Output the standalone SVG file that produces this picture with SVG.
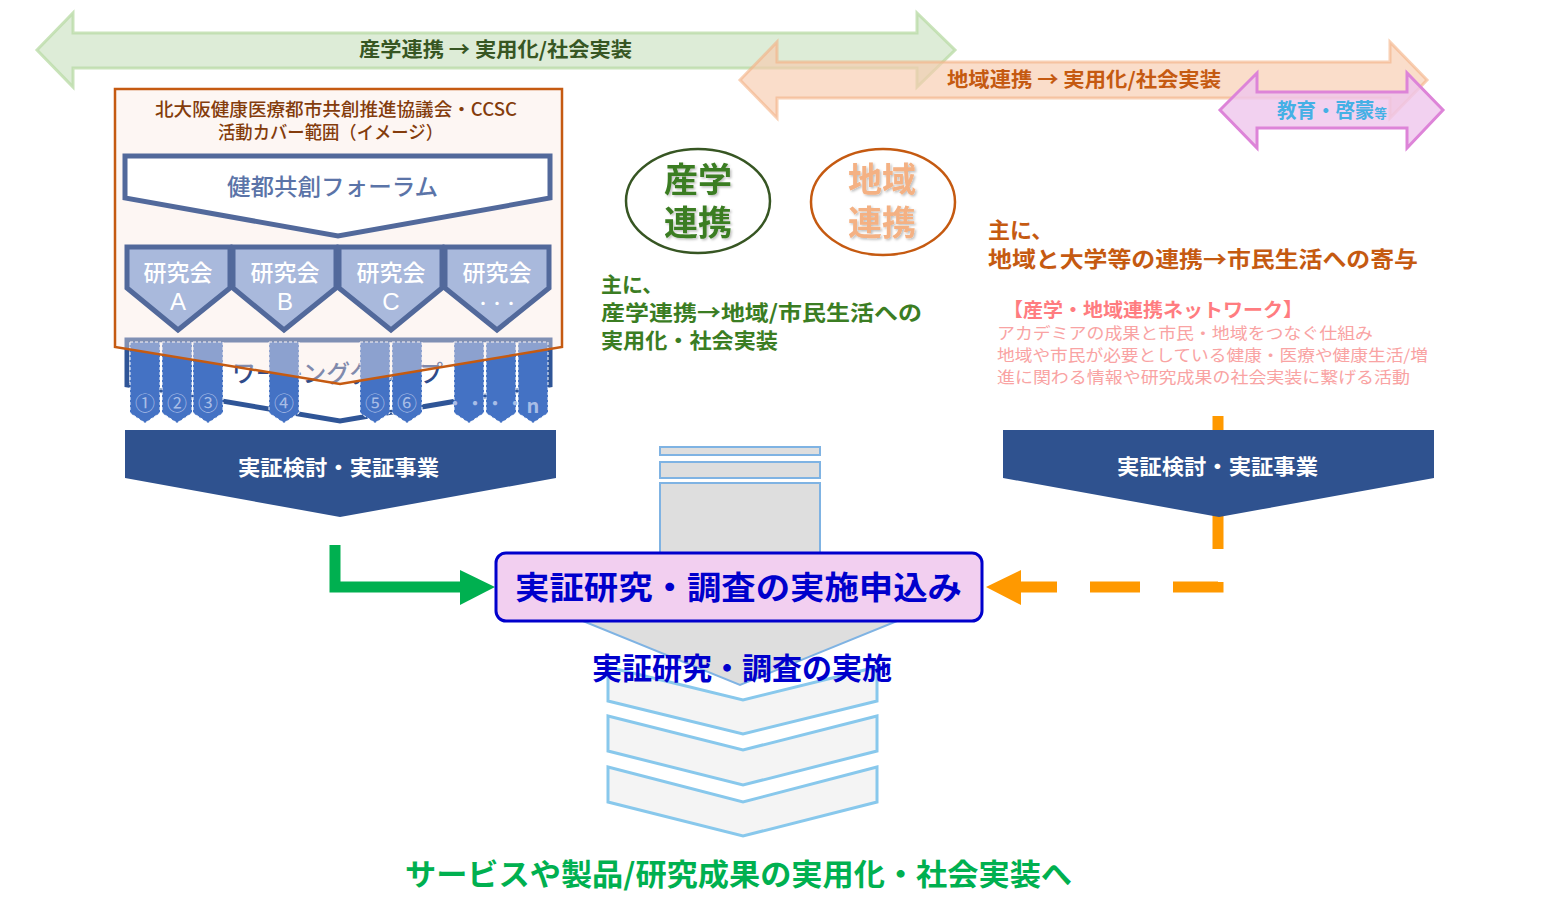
<svg xmlns="http://www.w3.org/2000/svg" width="1545" height="903" viewBox="0 0 1545 903">
<defs>
<style>
text{font-family:'Noto Sans CJK JP','Noto Sans',sans-serif;dominant-baseline:central;}
.b{font-weight:bold;}
.m{font-weight:500;}
.rs{fill:#a9b9dc;stroke:#52699b;stroke-width:5;stroke-linejoin:miter;}
.rt{fill:#ffffff;font-size:23px;text-anchor:middle;font-weight:500;}
.lat{font-family:'Liberation Sans',sans-serif;font-size:24px;}
.tab{fill:#4472c4;stroke:#ffffff;stroke-width:1;stroke-dasharray:3 2;}
.tl{fill:#a8bde6;font-size:20px;text-anchor:middle;}
.pent{fill:#2f528f;}
.pt{fill:#ffffff;font-size:21px;text-anchor:middle;font-weight:bold;}
.strip{fill:#dedede;stroke:#7fb3e3;stroke-width:2;}
.chev{fill:#f4f4f4;stroke:#88c8ec;stroke-width:3;stroke-linejoin:miter;}
</style>
<filter id="sh" x="-20%" y="-20%" width="140%" height="140%">
<feDropShadow dx="1.5" dy="1.5" stdDeviation="1" flood-color="#000" flood-opacity="0.25"/>
</filter>
</defs>
<rect width="1545" height="903" fill="#ffffff"/>

<!-- top band arrows -->
<g id="arrow-sangaku">
<polygon points="37,50 73,13 73,33 917,33 917,13 955,50 917,87 917,68 73,68 73,87" fill="#d9ead3" fill-opacity="0.9" stroke="#bcdca9" stroke-width="3" stroke-opacity="0.8"/>
<text x="495.5" y="48" class="b" font-size="20" fill="#375623" text-anchor="middle" textLength="273" lengthAdjust="spacingAndGlyphs">産学連携 → 実用化/社会実装</text>
</g>
<g id="arrow-chiiki">
<polygon points="740,80 777,42 777,62 1390,62 1390,42 1427,80 1390,118 1390,98 777,98 777,118" fill="#f8cbad" fill-opacity="0.65" stroke="#f4b183" stroke-width="3" stroke-opacity="0.6"/>
<text x="1084" y="78" class="b" font-size="20" fill="#c55a11" text-anchor="middle" textLength="274" lengthAdjust="spacingAndGlyphs">地域連携 → 実用化/社会実装</text>
</g>
<g id="arrow-kyoiku">
<polygon points="1220,110 1257,73 1257,92 1407,92 1407,73 1443,110 1407,148 1407,128 1257,128 1257,148" fill="#efc6ec" fill-opacity="0.8" stroke="#dd84d8" stroke-width="3"/>
<text x="1277" y="109" class="b" font-size="20" fill="#45b0e5" textLength="110" lengthAdjust="spacingAndGlyphs">教育・啓蒙<tspan font-size="13" dy="3">等</tspan></text>
</g>

<!-- working group (under the box) -->
<g id="working-group">
<polygon points="127,340 550,340 550,385 340,421 127,385" fill="#ffffff" stroke="#2f5597" stroke-width="5"/>
<text x="337.5" y="371" class="m" font-size="24" fill="#2f4b8a" text-anchor="middle" textLength="211" lengthAdjust="spacingAndGlyphs">ワーキンググループ</text>
<polygon class="tab" points="130,342 160,342 160,413 145,423 130,413"/>
<polygon class="tab" points="162,342 192,342 192,413 177,423 162,413"/>
<polygon class="tab" points="193,342 223,342 223,413 208,423 193,413"/>
<polygon class="tab" points="269,342 299,342 299,413 284,423 269,413"/>
<polygon class="tab" points="360,342 390,342 390,413 375,423 360,413"/>
<polygon class="tab" points="392,342 422,342 422,413 407,423 392,413"/>
<polygon class="tab" points="454,342 484,342 484,413 469,423 454,413"/>
<polygon class="tab" points="486,342 516,342 516,413 501,423 486,413"/>
<polygon class="tab" points="518,342 548,342 548,413 533,423 518,413"/>
<text class="tl" x="145" y="402">①</text>
<text class="tl" x="177" y="402">②</text>
<text class="tl" x="208" y="402">③</text>
<text class="tl" x="284" y="402">④</text>
<text class="tl" x="375" y="402">⑤</text>
<text class="tl" x="407" y="402">⑥</text>
<text class="tl" x="485" y="402" font-size="14.7">・・・・</text>
<text class="tl" x="533" y="404" font-family="'Liberation Sans',sans-serif" font-weight="bold">n</text>
</g>

<!-- CCSC coverage box -->
<g id="ccsc-box">
<path d="M115,89 H562 V347 L340,384 L115,347 Z" fill="#fbe9e2" fill-opacity="0.4" stroke="#c55a11" stroke-width="2.5"/>
<text x="336" y="108" class="m" font-size="18" fill="#843c0c" text-anchor="middle" textLength="362" lengthAdjust="spacingAndGlyphs">北大阪健康医療都市共創推進協議会・CCSC</text>
<text x="330.5" y="131" class="m" font-size="18" fill="#843c0c" text-anchor="middle" textLength="225" lengthAdjust="spacingAndGlyphs">活動カバー範囲（イメージ）</text>
</g>

<g id="forum">
<polygon points="125,156 550,156 550,198 338,236 125,198" fill="#ffffff" stroke="#52699b" stroke-width="5"/>
<text x="332.5" y="185" class="m" font-size="23" fill="#5b74a8" text-anchor="middle" textLength="211" lengthAdjust="spacingAndGlyphs">健都共創フォーラム</text>
</g>

<g id="kenkyukai-a">
<polygon class="rs" points="127,247 230,247 230,288 178,330 127,288"/>
<text class="rt" x="178" y="271">研究会<tspan class="lat" x="178" dy="30">A</tspan></text>
</g>
<g id="kenkyukai-b">
<polygon class="rs" points="233,247 336,247 336,288 284,330 233,288"/>
<text class="rt" x="285" y="271">研究会<tspan class="lat" x="285" dy="30">B</tspan></text>
</g>
<g id="kenkyukai-c">
<polygon class="rs" points="339,247 442,247 442,288 391,330 339,288"/>
<text class="rt" x="391" y="271">研究会<tspan class="lat" x="391" dy="30">C</tspan></text>
</g>
<g id="kenkyukai-etc">
<polygon class="rs" points="445,247 549,247 549,288 497,330 445,288"/>
<text class="rt" x="497" y="271">研究会<tspan x="497" dy="31" font-size="14">・・・</tspan></text>
</g>

<!-- demonstration pentagons -->
<g id="jissho-left">
<polygon class="pent" points="125,430 556,430 556,478 340,517 125,478"/>
<text class="pt" x="338.5" y="466" textLength="201" lengthAdjust="spacingAndGlyphs">実証検討・実証事業</text>
</g>

<!-- middle texts -->
<g id="circle-sangaku">
<ellipse cx="698" cy="201" rx="72" ry="52" fill="none" stroke="#375623" stroke-width="2.5"/>
<text x="698" y="177" class="b" font-size="34" fill="#3b7d23" text-anchor="middle" filter="url(#sh)">産学<tspan x="698" dy="43">連携</tspan></text>
</g>
<g id="circle-chiiki">
<ellipse cx="883" cy="202" rx="72" ry="53" fill="none" stroke="#c55a11" stroke-width="2.5"/>
<text x="882" y="177" class="b" font-size="34" fill="#f4b183" text-anchor="middle" filter="url(#sh)">地域<tspan x="882" dy="43">連携</tspan></text>
</g>
<g id="text-sangaku" class="b" fill="#3b7d23">
<text x="601" y="283" font-size="21">主に、</text>
<text x="601" y="311" font-size="21" textLength="321" lengthAdjust="spacingAndGlyphs">産学連携→地域/市民生活への</text>
<text x="601" y="339" font-size="21" textLength="177" lengthAdjust="spacingAndGlyphs">実用化・社会実装</text>
</g>
<g id="text-chiiki">
<text x="988" y="228" class="b" font-size="22" fill="#c55a11">主に、</text>
<text x="988" y="257" class="b" font-size="22" fill="#c55a11" textLength="430" lengthAdjust="spacingAndGlyphs">地域と大学等の連携→市民生活への寄与</text>
<text x="1003" y="308" class="b" font-size="19" fill="#ff7c80" textLength="300" lengthAdjust="spacingAndGlyphs">【産学・地域連携ネットワーク】</text>
<text x="997" y="332" font-size="16" fill="#f9a3a3" textLength="376" lengthAdjust="spacingAndGlyphs">アカデミアの成果と市民・地域をつなぐ仕組み</text>
<text x="997" y="354" font-size="16" fill="#f9a3a3" textLength="431" lengthAdjust="spacingAndGlyphs">地域や市民が必要としている健康・医療や健康生活/増</text>
<text x="997" y="376" font-size="16" fill="#f9a3a3" textLength="413" lengthAdjust="spacingAndGlyphs">進に関わる情報や研究成果の社会実装に繋げる活動</text>
</g>

<!-- connectors -->
<g id="connectors">
<path d="M1218,416 V587 H1021" fill="none" stroke="#ff9900" stroke-width="11" stroke-dasharray="50 33" stroke-linejoin="miter"/>
<polygon points="1021,570 986,587 1021,605" fill="#ff9900"/>
<path d="M335,545 V587 H462" fill="none" stroke="#00b050" stroke-width="11" stroke-linejoin="miter"/>
<polygon points="460,570 495,587 460,605" fill="#00b050"/>
</g>

<g id="jissho-right">
<polygon class="pent" points="1003,430 1434,430 1434,478 1219,517 1003,478"/>
<text class="pt" x="1217.5" y="465" textLength="201" lengthAdjust="spacingAndGlyphs">実証検討・実証事業</text>
</g>

<!-- central flow -->
<g id="flow-column">
<rect class="strip" x="660" y="447" width="160" height="8"/>
<rect class="strip" x="660" y="462" width="160" height="16"/>
<polygon class="strip" points="660,483 820,483 820,570 960,570 960,621 897,621 740,685 583,621 520,621 520,570 660,570"/>
</g>
<g id="chevrons">
<polygon class="chev" points="608,767 743,802 877,767 877,802 743,836 608,802"/>
<polygon class="chev" points="608,716 743,750 877,716 877,751 743,785 608,751"/>
<polygon class="chev" points="608,667 743,700 877,667 877,701 743,734 608,701"/>
</g>
<g id="apply-box">
<rect x="496" y="553" width="486" height="68" rx="10" ry="10" fill="#f2cff0" stroke="#0000cc" stroke-width="3"/>
<text x="738.5" y="585" class="b" font-size="32" fill="#0000cc" text-anchor="middle" textLength="447" lengthAdjust="spacingAndGlyphs">実証研究・調査の実施申込み</text>
</g>
<g id="conduct-label">
<text x="742" y="666" class="b" font-size="30" fill="#0000cc" text-anchor="middle" textLength="300" lengthAdjust="spacingAndGlyphs">実証研究・調査の実施</text>
</g>
<g id="result-label">
<text x="738.5" y="872" class="b" font-size="30" fill="#00b050" text-anchor="middle" textLength="667" lengthAdjust="spacingAndGlyphs">サービスや製品/研究成果の実用化・社会実装へ</text>
</g>
</svg>
